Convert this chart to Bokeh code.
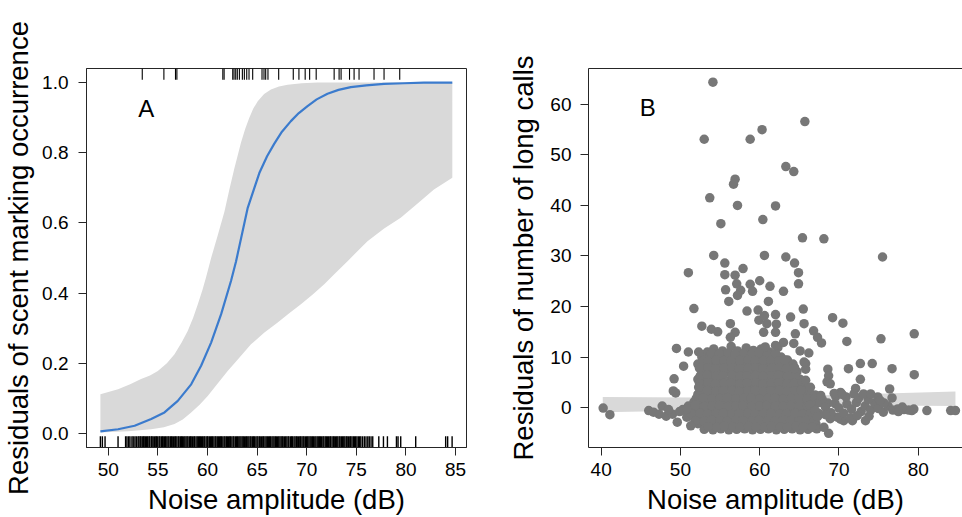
from bokeh.plotting import figure
from bokeh.layouts import row
from bokeh.models import Range1d, FixedTicker, PrintfTickFormatter, Label, LinearAxis
from bokeh.embed import file_html
from bokeh.resources import INLINE

FONT = "Liberation Sans"

# ---------------- Panel A data ----------------
curve_x = [49.2, 50.98, 52.65, 54.32, 55.66, 57.0, 58.35, 59.35, 60.36, 61.37, 62.37, 62.87,
           64.05, 65.22, 66.0, 66.73, 67.5, 68.4, 69.2, 70.08, 71.0, 72.09, 73.2, 74.44, 76.0,
           77.79, 79.8, 81.8, 84.67]
curve_y = [0.006, 0.012, 0.022, 0.041, 0.06, 0.093, 0.14, 0.193, 0.259, 0.34, 0.435, 0.49,
           0.643, 0.742, 0.79, 0.826, 0.86, 0.89, 0.913, 0.933, 0.952, 0.968, 0.979, 0.987, 0.992,
           0.996, 0.998, 1.0, 1.0]

band_up_x = [49.2, 50.98, 52.2, 53.3, 54.2, 54.99, 55.9, 56.67, 57.4, 58.0, 58.55, 59.02, 59.5,
             59.85, 60.36, 61.0, 61.7, 62.2, 62.7, 63.38, 63.8, 64.2, 64.6, 65.06, 65.7, 66.39,
             67.2, 68.07, 69.5, 71.09, 84.67]
band_up_y = [0.112, 0.126, 0.14, 0.155, 0.165, 0.178, 0.2, 0.226, 0.26, 0.292, 0.33, 0.368, 0.41,
             0.445, 0.50, 0.562, 0.632, 0.695, 0.755, 0.83, 0.868, 0.899, 0.925, 0.947, 0.967, 0.98,
             0.989, 0.994, 0.998, 1.0, 1.0]
band_lo_x = [49.2, 52.0, 54.32, 55.6, 56.67, 57.5, 58.35, 59.2, 60.02, 61.0, 62.03, 63.2, 64.38,
             65.7, 67.07, 68.2, 69.41, 70.6, 71.76, 72.9, 74.11, 76.12, 77.8, 79.47, 81.2, 82.82,
             84.67]
band_lo_y = [0.003, 0.006, 0.012, 0.018, 0.027, 0.04, 0.06, 0.082, 0.107, 0.142, 0.178, 0.216, 0.254,
             0.287, 0.316, 0.342, 0.368, 0.396, 0.425, 0.457, 0.491, 0.548, 0.584, 0.615, 0.656,
             0.695, 0.729]

# rug: noise amplitude where scent marking occurred (top) / did not occur (bottom)
rug_present = [53.42, 55.6, 56.77, 56.91, 61.54, 61.67, 62.54, 62.67, 62.84, 63.0, 63.21, 63.51,
               63.71, 63.95, 64.18, 64.55, 65.49, 65.69, 65.86, 66.09, 67.17, 68.64, 69.21, 69.84,
               70.29, 70.95, 72.76, 73.26, 73.46, 74.31, 74.77, 75.27, 76.78, 77.79, 79.37]
rug_absent = [49.2, 49.4, 49.67, 50.98, 51.74, 51.88, 52.05, 52.18, 52.38, 52.51, 52.68, 52.82, 52.99,
              53.08, 53.21, 53.29, 53.42, 53.55, 53.61, 53.74, 53.86, 53.97, 54.1, 54.18, 54.33, 54.41,
              54.52, 54.66, 54.79, 54.85, 54.98, 55.12, 55.2, 55.34, 55.47, 55.53, 55.68, 55.77, 55.9,
              56.02, 56.11, 56.25, 56.36, 56.44, 56.58, 56.7, 56.79, 56.91, 57.05, 57.13, 57.27, 57.38,
              57.46, 57.6, 57.71, 57.83, 57.94, 58.03, 58.17, 58.29, 58.35, 58.49, 58.62, 58.7, 58.84,
              58.96, 59.07, 59.19, 59.28, 59.4, 59.51, 59.63, 59.72, 59.86, 59.98, 60.05, 60.19, 60.3,
              60.42, 60.51, 60.64, 60.77, 60.85, 60.98, 61.1, 61.21, 61.33, 61.4, 61.54, 61.67, 61.76,
              61.89, 62.0, 62.12, 62.24, 62.31, 62.45, 62.58, 62.66, 62.8, 62.93, 63.02, 63.15, 63.26,
              63.37, 63.49, 63.6, 63.71, 63.85, 63.94, 64.06, 64.17, 64.3, 64.39, 64.53, 64.64, 64.72,
              64.87, 64.99, 65.08, 65.22, 65.31, 65.45, 65.57, 65.66, 65.79, 65.91, 66.03, 66.14, 66.26,
              66.35, 66.49, 66.6, 66.71, 66.84, 66.93, 67.07, 67.18, 67.3, 67.42, 67.53, 67.62, 67.76,
              67.88, 68.0, 68.13, 68.21, 68.37, 68.48, 68.56, 68.71, 68.82, 68.95, 69.04, 69.18, 69.3,
              69.39, 69.52, 69.64, 69.73, 69.87, 69.99, 70.1, 70.22, 70.34, 70.45, 70.58, 70.67, 70.81,
              70.92, 71.05, 71.16, 71.28, 71.37, 71.5, 71.63, 71.72, 71.86, 71.97, 72.09, 72.2, 72.33,
              72.41, 72.55, 72.68, 72.77, 72.9, 73.02, 73.13, 73.27, 73.36, 73.5, 73.61, 73.73, 73.84,
              73.98, 74.07, 74.2, 74.34, 74.43, 74.56, 74.7, 74.81, 74.93, 75.06, 75.2, 75.33, 75.45,
              75.62, 75.8, 75.97, 76.15, 76.3, 76.48, 76.65, 77.26, 77.73, 78.13, 79.04, 79.2, 79.47,
              80.98, 84.0, 84.2, 84.65]

xticks_a = [50, 55, 60, 65, 70, 75, 80, 85]
yticks_a = [0.0, 0.2, 0.4, 0.6, 0.8, 1.0]

# ---------------- Panel B data ----------------
sparse_points = [
    (54.1, 64.4), (53.0, 53.1), (58.8, 53.1), (60.3, 55.0), (65.7, 56.6), (63.3, 47.7), (64.3, 46.7),
    (56.9, 45.2), (56.7, 44.2), (53.7, 41.5), (57.2, 40.0), (62.0, 39.9), (55.1, 36.4), (60.4, 37.2),
    (65.4, 33.6), (68.1, 33.4), (75.5, 29.8), (54.2, 30.1), (60.6, 30.1), (63.3, 29.8), (55.6, 28.6),
    (64.4, 28.6), (57.9, 27.5), (51.0, 26.7), (55.6, 26.3), (56.9, 26.2), (64.9, 26.7), (57.1, 24.5),
    (58.8, 24.4), (60.0, 25.1), (61.3, 24.0), (64.9, 24.5), (55.7, 23.3), (57.6, 23.2), (59.1, 23.0),
    (63.0, 23.0), (57.2, 22.2), (56.1, 21.0), (61.1, 21.0), (51.7, 19.6), (58.4, 19.1), (59.8, 19.3),
    (59.9, 17.3), (60.6, 18.2), (60.9, 16.6), (62.0, 18.4), (62.1, 16.5), (63.9, 17.9), (65.5, 19.5),
    (65.6, 16.6), (66.8, 15.2), (67.3, 13.9), (67.8, 12.8), (69.2, 17.8), (70.5, 16.7), (71.0, 13.1),
    (75.3, 13.6), (79.5, 14.6), (52.7, 16.1), (53.9, 15.5), (54.7, 15.0), (56.3, 16.6), (56.9, 14.9),
    (56.3, 13.9), (60.5, 14.9), (62.0, 14.9), (64.5, 14.6), (64.3, 12.7), (63.0, 12.9), (62.0, 12.3),
    (60.7, 12.0), (65.1, 11.2), (66.2, 10.8), (49.5, 11.7), (51.0, 11.0), (52.3, 11.0), (50.4, 8.2),
    (49.2, 5.7), (49.1, 3.3), (49.4, 2.9), (52.3, 4.0), (72.7, 8.7), (74.2, 8.7), (71.2, 7.7),
    (76.7, 7.7), (79.5, 6.5), (72.7, 5.6), (76.4, 3.7), (68.6, 7.6), (68.7, 6.3), (68.5, 5.1),
    (72.1, 3.8), (65.8, 8.7), (64.4, 7.7), (65.8, 7.6), (65.6, 9.0), (65.8, 5.4), (66.4, 4.0),
    (65.2, 3.4), (70.2, 3.0), (71.9, 2.7), (68.9, 4.7), (69.4, 2.8), (70.4, 2.6), (76.7, 1.9),
    (75.2, 1.4), (73.1, 2.7), (74.0, 2.7), (67.7, 2.4),
]
tail_points = [
    (40.25, -0.1), (41.1, -1.4), (46.0, -0.6), (46.6, -0.9), (47.7, 0.3), (47.3, -1.3), (48.2, -1.7),
    (49.0, -1.3), (49.9, -0.8), (50.8, -0.3), (49.6, -2.9), (51.3, -3.6), (48.5, -0.4),
    (79.2, -0.6), (79.45, -0.3), (81.1, -0.6), (84.1, -0.6), (84.7, -0.6), (78.2, -0.4), (78.8, -0.5),
    (68.7, -5.1), (68.1, -3.9), (73.35, -2.6), (70.6, -2.6), (71.7, -2.6), (68.9, -2.2), (70.2, -2.3),
    (69.8, -1.9), (71.5, -2.0), (66.3, 0.5), (67.0, -0.6), (67.6, 1.0), (68.3, 0.1), (69.0, -1.0),
    (69.5, 0.8), (70.0, -0.1), (70.6, -1.1), (71.0, 0.7), (71.6, -0.3), (72.2, 1.0), (72.8, -0.8),
    (73.3, 0.3), (74.0, -0.5), (74.5, 0.9), (75.0, -0.2), (75.6, -0.9), (76.2, 0.3), (76.8, -0.5),
    (77.4, -0.3), (78.0, 0.1), (69.6, 2.2), (70.9, 2.1), (72.5, 1.9), (73.7, 1.6), (74.9, 2.1),
    (67.3, -1.8), (68.3, -1.4), (72.3, -1.6), (73.8, -1.7), (75.7, 0.9), (77.5, -0.8),
]
blob_points = [
    (53.4, 11.0), (54.2, 11.6), (55.3, 11.2), (56.4, 12.1), (57.2, 11.2), (58.3, 11.8), (59.2, 11.3),
    (60.2, 11.6), (61.2, 11.0), (62.3, 11.9),
    (52.7, 10.0), (53.7, 9.9), (54.8, 10.1), (55.7, 10.0), (56.7, 9.8), (57.8, 10.1), (58.7, 10.0),
    (59.7, 9.9), (60.7, 10.1), (61.8, 9.9), (62.7, 10.0), (63.5, 9.4),
    (52.2, 8.6), (53.2, 8.5), (54.2, 8.7), (55.3, 8.6), (56.2, 8.4), (57.2, 8.6), (58.2, 8.7),
    (59.3, 8.5), (60.2, 8.6), (61.2, 8.4), (62.2, 8.7), (63.3, 8.5), (64.2, 8.6),
    (52.7, 7.1), (53.7, 7.0), (54.7, 7.2), (55.7, 7.1), (56.8, 6.9), (57.7, 7.1), (58.7, 7.2),
    (59.7, 7.0), (60.7, 7.1), (61.8, 6.9), (62.7, 7.2), (63.7, 7.0), (64.7, 7.1),
    (52.2, 5.6), (53.2, 5.5), (54.2, 5.7), (55.2, 5.6), (56.3, 5.4), (57.2, 5.6), (58.2, 5.7),
    (59.2, 5.5), (60.2, 5.6), (61.3, 5.4), (62.2, 5.6), (63.2, 5.7), (64.2, 5.5), (65.1, 5.6),
    (52.7, 4.1), (53.7, 4.0), (54.7, 4.2), (55.7, 4.1), (56.7, 3.9), (57.7, 4.1), (58.7, 4.2),
    (59.7, 4.0), (60.7, 4.1), (61.7, 3.9), (62.7, 4.2), (63.7, 4.0), (64.7, 4.1), (65.7, 4.0),
    (52.2, 2.6), (53.2, 2.5), (54.2, 2.7), (55.2, 2.6), (56.2, 2.4), (57.2, 2.6), (58.2, 2.7),
    (59.2, 2.5), (60.2, 2.6), (61.2, 2.4), (62.2, 2.7), (63.2, 2.5), (64.2, 2.6), (65.2, 2.5),
    (66.2, 2.7), (67.0, 2.5),
    (51.7, 1.1), (52.7, 1.0), (53.7, 1.2), (54.7, 1.1), (55.7, 0.9), (56.7, 1.1), (57.7, 1.2),
    (58.7, 1.0), (59.7, 1.1), (60.7, 0.9), (61.7, 1.2), (62.7, 1.0), (63.7, 1.1), (64.7, 1.0),
    (65.7, 1.2), (66.7, 1.0), (67.6, 1.1), (68.6, 0.9),
    (50.3, -0.4), (51.2, -0.5), (52.2, -0.3), (53.2, -0.4), (54.2, -0.6), (55.2, -0.4), (56.2, -0.3),
    (57.2, -0.5), (58.2, -0.4), (59.2, -0.6), (60.2, -0.3), (61.2, -0.5), (62.2, -0.4), (63.2, -0.5),
    (64.2, -0.3), (65.2, -0.4), (66.2, -0.5),
    (50.8, -1.9), (51.7, -2.0), (52.7, -1.8), (53.7, -1.9), (54.7, -2.1), (55.7, -1.9), (56.7, -1.8),
    (57.7, -2.0), (58.7, -1.9), (59.7, -2.1), (60.7, -1.8), (61.7, -2.0), (62.7, -1.9), (63.7, -2.0),
    (64.7, -1.8), (65.7, -1.9), (66.5, -2.0),
    (52.2, -3.2), (53.2, -3.3), (54.2, -3.1), (55.2, -3.2), (56.2, -3.4), (57.2, -3.2), (58.2, -3.1),
    (59.2, -3.3), (60.2, -3.2), (61.2, -3.4), (62.2, -3.1), (63.2, -3.3), (64.2, -3.2), (65.2, -3.3),
    (66.2, -3.1), (67.1, -3.2),
    (53.0, -4.3), (54.1, -4.4), (55.1, -4.2), (56.1, -4.4), (57.1, -4.3), (58.1, -4.2), (59.1, -4.4),
    (60.1, -4.3), (61.1, -4.2), (62.1, -4.4), (63.1, -4.3), (64.1, -4.2), (65.1, -4.4), (66.1, -4.3),
    (67.2, -4.2),
]
blob_fill_points = [
    (53.9, 10.7), (54.9, 10.6), (56.0, 10.8), (56.9, 10.6), (58.0, 10.7), (59.0, 10.5), (59.9, 10.8),
    (61.0, 10.6), (62.0, 10.7),
    (52.9, 9.3), (53.5, 9.2), (54.5, 9.4), (55.5, 9.3), (56.4, 9.2), (57.5, 9.3), (58.5, 9.4),
    (59.4, 9.2), (60.5, 9.3), (61.4, 9.3), (62.4, 9.2), (63.2, 9.4),
    (52.4, 7.8), (53.5, 7.9), (54.4, 7.7), (55.5, 7.8), (56.5, 7.9), (57.4, 7.7), (58.5, 7.8),
    (59.5, 7.9), (60.4, 7.7), (61.5, 7.8), (62.5, 7.9), (63.4, 7.7), (64.4, 7.9),
    (52.5, 6.3), (53.4, 6.4), (54.5, 6.2), (55.4, 6.3), (56.5, 6.4), (57.5, 6.2), (58.4, 6.3),
    (59.5, 6.4), (60.4, 6.2), (61.5, 6.3), (62.4, 6.4), (63.5, 6.2), (64.5, 6.3),
    (52.4, 4.8), (53.5, 4.9), (54.4, 4.7), (55.5, 4.8), (56.4, 4.9), (57.5, 4.7), (58.4, 4.8),
    (59.5, 4.9), (60.4, 4.7), (61.5, 4.8), (62.4, 4.9), (63.5, 4.7), (64.4, 4.8), (65.4, 4.9),
    (52.5, 3.3), (53.4, 3.4), (54.5, 3.2), (55.4, 3.3), (56.5, 3.4), (57.4, 3.2), (58.5, 3.3),
    (59.4, 3.4), (60.5, 3.2), (61.4, 3.3), (62.5, 3.4), (63.4, 3.2), (64.5, 3.3), (65.5, 3.4),
    (52.0, 1.8), (52.9, 1.9), (54.0, 1.7), (55.0, 1.8), (55.9, 1.9), (57.0, 1.7), (58.0, 1.8),
    (58.9, 1.9), (60.0, 1.7), (61.0, 1.8), (61.9, 1.9), (63.0, 1.7), (64.0, 1.8), (64.9, 1.9),
    (66.0, 1.7), (67.0, 1.8), (67.9, 1.6),
    (51.0, 0.3), (51.9, 0.4), (53.0, 0.2), (54.0, 0.3), (54.9, 0.4), (56.0, 0.2), (57.0, 0.3),
    (57.9, 0.4), (59.0, 0.2), (60.0, 0.3), (60.9, 0.4), (62.0, 0.2), (63.0, 0.3), (63.9, 0.4),
    (65.0, 0.2), (66.0, 0.3), (66.9, 0.4),
    (51.4, -1.2), (52.5, -1.1), (53.4, -1.3), (54.5, -1.2), (55.4, -1.1), (56.5, -1.3), (57.4, -1.2),
    (58.5, -1.1), (59.4, -1.3), (60.5, -1.2), (61.4, -1.1), (62.5, -1.3), (63.4, -1.2), (64.5, -1.1),
    (65.4, -1.3), (66.4, -1.2), (67.4, -1.1),
    (51.9, -2.6), (53.0, -2.7), (53.9, -2.5), (55.0, -2.6), (55.9, -2.7), (57.0, -2.5), (57.9, -2.6),
    (59.0, -2.7), (59.9, -2.5), (61.0, -2.6), (61.9, -2.7), (63.0, -2.5), (63.9, -2.6), (65.0, -2.7),
    (65.9, -2.5), (66.9, -2.6),
    (53.5, -3.8), (54.6, -3.9), (55.5, -3.7), (56.6, -3.8), (57.5, -3.9), (58.6, -3.7), (59.5, -3.8),
    (60.6, -3.9), (61.5, -3.7), (62.6, -3.8), (63.5, -3.9), (64.6, -3.7), (65.5, -3.8), (66.6, -3.9),
]
fit_band_x = [40.2, 52.0, 60.0, 67.0, 84.7]
fit_band_up = [2.1, 2.0, 2.0, 2.4, 3.2]
fit_band_lo = [-0.9, -0.6, 0.6, 0.5, 0.3]

xticks_b = [40, 50, 60, 70, 80]
yticks_b = [0, 10, 20, 30, 40, 50, 60]

LINE = "#262626"


def style_axes(p, x_label, y_label):
    p.xgrid.visible = False
    p.ygrid.visible = False
    p.background_fill_color = "white"
    p.border_fill_color = "white"
    for ax in (p.xaxis[0], p.yaxis[0]):
        ax.axis_label_text_font = FONT
        ax.axis_label_text_font_size = "27.5px"
        ax.axis_label_text_font_style = "normal"
        ax.axis_label_text_color = "black"
        ax.major_label_text_font = FONT
        ax.major_label_text_font_size = "19px"
        ax.major_label_text_color = "black"
        ax.major_tick_out = 8
        ax.major_tick_in = 0
        ax.minor_tick_line_color = None
        ax.axis_line_color = LINE
        ax.major_tick_line_color = LINE
    p.xaxis[0].axis_label = x_label
    p.yaxis[0].axis_label = y_label
    p.xaxis[0].major_label_standoff = 7
    p.xaxis[0].axis_label_standoff = 5
    p.yaxis[0].major_label_standoff = 10
    p.yaxis[0].axis_label_standoff = 5


# ---------------- Panel A ----------------
ya0, ya1 = -0.04, 1.04
pa = figure(width=480, height=517, x_range=Range1d(47.8, 86.1), y_range=Range1d(ya0, ya1),
            output_backend="svg", toolbar_location=None,
            min_border_left=85, min_border_right=14, min_border_top=68, min_border_bottom=70)
style_axes(pa, "Noise amplitude (dB)", "Residuals of scent marking occurrence")
pa.outline_line_color = LINE
pa.outline_line_width = 1
pa.xaxis[0].ticker = FixedTicker(ticks=xticks_a)
pa.yaxis[0].ticker = FixedTicker(ticks=yticks_a)
pa.yaxis[0].formatter = PrintfTickFormatter(format="%.1f")

band_x = band_up_x + band_lo_x[::-1]
band_y = band_up_y + band_lo_y[::-1]
pa.patch(band_x, band_y, fill_color="#d9d9d9", line_color=None)
pa.line(curve_x, curve_y, line_color="#3b7bcd", line_width=2.2, line_join="round")

rug_len = 0.03 * (ya1 - ya0)
pa.segment(x0=rug_absent, x1=rug_absent, y0=[ya0] * len(rug_absent),
           y1=[ya0 + rug_len] * len(rug_absent), line_color="black", line_width=1.4)
pa.segment(x0=rug_present, x1=rug_present, y0=[ya1] * len(rug_present),
           y1=[ya1 - rug_len] * len(rug_present), line_color="black", line_width=1.1)
pa.add_layout(Label(x=53.82, y=0.926, text="A", text_font=FONT, text_font_size="24px",
                    text_align="center", text_baseline="middle", text_color="black"))

# ---------------- Panel B ----------------
pb = figure(width=482, height=517, x_range=Range1d(38.4, 85.59), y_range=Range1d(-7.9, 67.1),
            output_backend="svg", toolbar_location=None,
            min_border_left=108, min_border_right=0, min_border_top=68, min_border_bottom=70)
style_axes(pb, "Noise amplitude (dB)", "Residuals of number of long calls")
pb.outline_line_color = None
pb.xaxis[0].ticker = FixedTicker(ticks=xticks_b)
pb.yaxis[0].ticker = FixedTicker(ticks=yticks_b)
pb.yaxis[0].major_label_standoff = 9
pb.yaxis[0].axis_label_standoff = 8
top_axis = LinearAxis(axis_line_color=LINE, major_tick_line_color=None, minor_tick_line_color=None,
                      major_label_text_font_size="0px", ticker=FixedTicker(ticks=[]))
pb.add_layout(top_axis, "above")

fb_x = fit_band_x + fit_band_x[::-1]
fb_y = fit_band_up + fit_band_lo[::-1]
pb.patch(fb_x, fb_y, fill_color="#d9d9d9", line_color=None)

all_pts = blob_points + blob_fill_points + tail_points + sparse_points
bx = [pt[0] for pt in all_pts]
by = [pt[1] for pt in all_pts]
pb.scatter(bx, by, size=9.5, fill_color="#777777", line_color=None)
pb.add_layout(Label(x=45.87, y=59.3, text="B", text_font=FONT, text_font_size="24px",
                    text_align="center", text_baseline="middle", text_color="black"))

layout = row(pa, pb)
open("out.html", "w").write(file_html(layout, INLINE))
